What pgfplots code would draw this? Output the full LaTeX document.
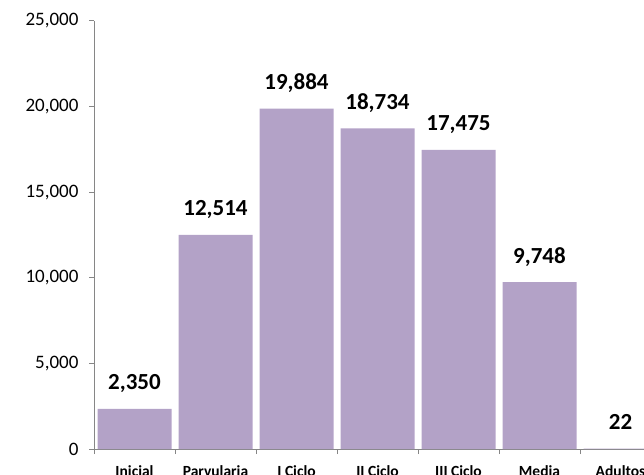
\documentclass[border=0pt]{standalone}
\usepackage{pgfplots}
\pgfplotsset{compat=1.18}
\usepackage{fontspec}
\setmainfont{Carlito}
\definecolor{barpurple}{RGB}{179,162,199}
\definecolor{axisgrey}{RGB}{134,134,134}
\begin{document}
\begin{tikzpicture}
\path[use as bounding box] (0,0) rectangle (644pt,474pt);
\clip (0,0) rectangle (644pt,474pt);
\begin{axis}[
  at={(94pt,25pt)}, anchor=south west,
  scale only axis, width=567pt, height=428pt,
  xmin=-0.5, xmax=6.5, ymin=0, ymax=25000,
  axis x line=bottom, axis y line=left,
  axis line style={-, draw=axisgrey, line width=1pt},
  tick style={draw=axisgrey, line width=1pt},
  tick align=outside,
  major tick length=5pt, minor tick length=5pt,
  ytick={0,5000,10000,15000,20000,25000},
  scaled y ticks=false,
  /pgf/number format/1000 sep={,},
  /pgf/number format/assume math mode=true,
  yticklabel style={font=\fontsize{19}{22}\selectfont, text=black, xshift=-7pt},
  xtick={0,...,6},
  xticklabels={Inicial,Parvularia,I Ciclo,II Ciclo,III Ciclo,Media,Adultos},
  x tick style={draw=none},
  minor xtick={-0.5,0.5,1.5,2.5,3.5,4.5,5.5,6.5},
  minor x tick style={draw=axisgrey, line width=1pt},
  xticklabel style={font=\bfseries\fontsize{15.5}{18}\selectfont, anchor=base, yshift=-22pt, text=black},
  ybar, bar width=74pt,
  nodes near coords,
  every node near coord/.append style={font=\bfseries\fontsize{23}{26}\selectfont, anchor=base, yshift=19pt, text=black, inner sep=0pt},
]
\addplot[fill=barpurple, draw=none, bar shift=0pt] coordinates {
(0,2350) (1,12514) (2,19884) (3,18734) (4,17475) (5,9748) (6,22)
};
\end{axis}
\end{tikzpicture}
\end{document}
